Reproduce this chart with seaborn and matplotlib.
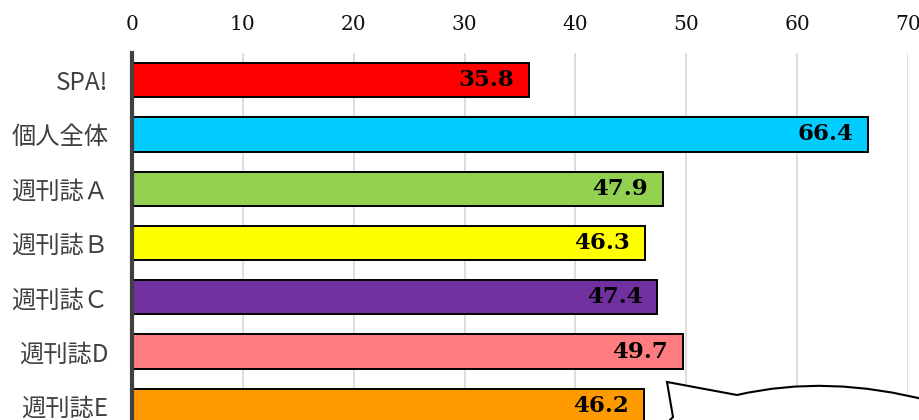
import matplotlib
matplotlib.use("Agg")
import matplotlib.pyplot as plt
import seaborn as sns
import pandas as pd
from matplotlib.path import Path
from matplotlib.patches import PathPatch

categories = ["SPA!", "個人全体", "週刊誌Ａ", "週刊誌Ｂ", "週刊誌Ｃ", "週刊誌D", "週刊誌E"]
values = [35.8, 66.4, 47.9, 46.3, 47.4, 49.7, 46.2]
colors = ["#FF0000", "#00CCFF", "#92D050", "#FFFF00", "#7030A0", "#FF7C80", "#FF9900"]
xticks = [0, 10, 20, 30, 40, 50, 60, 70]

sns.set_theme(style="white")
plt.rcParams["font.family"] = ["Noto Sans CJK JP", "DejaVu Sans"]

df = pd.DataFrame({"cat": categories, "val": values})

W, H = 920, 420
fig = plt.figure(figsize=(W / 100, H / 100), dpi=100)
ax_left, ax_right, ax_top, ax_bot = 132, 908, 53, 433
ax = fig.add_axes([ax_left / W, 1 - ax_bot / H, (ax_right - ax_left) / W, (ax_bot - ax_top) / H])

sns.barplot(data=df, y="cat", x="val", hue="cat", palette=colors, order=categories,
            hue_order=categories, orient="h", width=0.63, edgecolor="black",
            linewidth=1.4, saturation=1, legend=False, ax=ax, zorder=3)

ax.set_xlim(0, 70)
ax.set_ylim(len(categories) - 0.5, -0.5)
ax.set_xticks(xticks)
ax.xaxis.tick_top()
ax.tick_params(axis="x", length=0, pad=14, labelsize=14.5)
for lbl in ax.get_xticklabels():
    lbl.set_fontfamily("DejaVu Serif")
    lbl.set_color("#111111")
ax.tick_params(axis="y", length=0, pad=17, labelsize=17.5, labelcolor="#404040")
ax.set_xlabel("")
ax.set_ylabel("")
ax.grid(axis="x", color="#D4D4D4", linewidth=1.1, zorder=0)
ax.set_axisbelow(True)
for s in ["top", "right", "bottom"]:
    ax.spines[s].set_visible(False)
ax.spines["left"].set_color("#404040")
ax.spines["left"].set_linewidth(3)
ax.spines["left"].set_zorder(5)

for i, v in enumerate(values):
    ax.annotate(f"{v:.1f}", xy=(v, i), xytext=(-15, 0), textcoords="offset pixels",
                ha="right", va="center", fontsize=16.5, fontweight="bold",
                family="DejaVu Serif", color="black", zorder=6)

# speech bubble decoration (figure pixel coordinates)
def P(x, y):
    return (x / W, 1 - y / H)

verts = [P(665, 425), P(673, 417), P(667, 382), P(737, 395),
         P(828, 374), P(930, 401), P(930, 445), P(665, 445), P(665, 425)]
codes = [Path.MOVETO, Path.LINETO, Path.LINETO, Path.LINETO,
         Path.CURVE3, Path.CURVE3, Path.LINETO, Path.LINETO, Path.CLOSEPOLY]
bubble = PathPatch(Path(verts, codes), facecolor="white", edgecolor="black",
                   linewidth=1.5, transform=fig.transFigure, zorder=10)
fig.patches.append(bubble)

fig.savefig("out.png", dpi=100)
